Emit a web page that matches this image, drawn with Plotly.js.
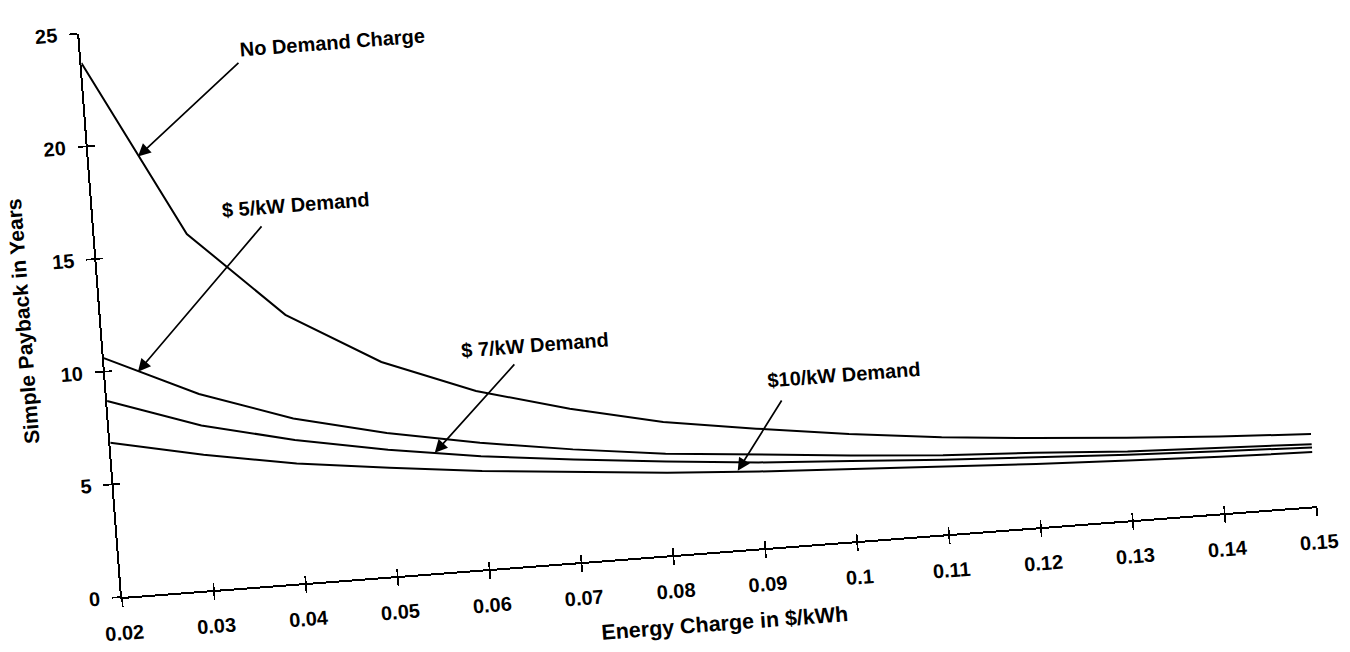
<!DOCTYPE html>
<html>
<head>
<meta charset="utf-8">
<script src="https://cdn.plot.ly/plotly-3.0.1.min.js"></script>
<style>
  html, body { margin:0; padding:0; background:#ffffff; overflow:hidden; }
  #wrap { position:absolute; left:0; top:0; width:1350px; height:720px;
          transform-origin:122px 597px; transform:rotate(-4.35deg); }
  #plot { width:1350px; height:720px; }
</style>
</head>
<body>
<div id="wrap"><div id="plot"></div></div>
<script>
// ---- data ----
const energyCharge = [0.02, 0.03, 0.04, 0.05, 0.06, 0.07, 0.08, 0.09, 0.10, 0.11, 0.12, 0.13, 0.14, 0.15];
const noDemand   = [23.7, 15.8, 11.9, 9.5, 7.9, 6.8, 5.9, 5.3, 4.75, 4.3, 3.95, 3.65, 3.4, 3.2];
const demand5    = [10.6, 8.7, 7.3, 6.35, 5.6, 5.0, 4.5, 4.15, 3.8, 3.5, 3.3, 3.05, 2.9, 2.75];
const demand7    = [8.7, 7.3, 6.35, 5.6, 5.0, 4.55, 4.15, 3.8, 3.55, 3.3, 3.1, 2.9, 2.75, 2.6];
const demand10   = [6.85, 6.0, 5.3, 4.8, 4.35, 4.0, 3.65, 3.4, 3.2, 3.0, 2.8, 2.65, 2.5, 2.4];

const xTickVals  = [0.02, 0.03, 0.04, 0.05, 0.06, 0.07, 0.08, 0.09, 0.10, 0.11, 0.12, 0.13, 0.14, 0.15];
const xTickText  = ['0.02','0.03','0.04','0.05','0.06','0.07','0.08','0.09','0.1','0.11','0.12','0.13','0.14','0.15'];
const yTickVals  = [0, 5, 10, 15, 20, 25];
const yTickText  = ['0', '5', '10', '15', '20', '25'];

const seriesNames = ['No Demand Charge', '$ 5/kW Demand', '$ 7/kW Demand', '$10/kW Demand'];
const seriesValues = [noDemand, demand5, demand7, demand10];

const xTitle = 'Energy Charge in $/kWh';
const yTitle = 'Simple Payback in Years';

// ---- styling / layout ----
const FONT = 'Liberation Sans, Arial, Helvetica, sans-serif';

const traces = seriesValues.map((vals, i) => ({
  type: 'scatter', mode: 'lines', name: seriesNames[i],
  x: energyCharge, y: vals,
  line: { color: '#000000', width: 2, shape: 'linear' },
  showlegend: false, hoverinfo: 'skip'
}));
// empty trace so the overlay axes (inner tick halves) are drawn
traces.push({ type:'scatter', mode:'lines', x:[], y:[], xaxis:'x2', yaxis:'y2', showlegend:false, hoverinfo:'skip' });

// label positions (data coords of the unrotated frame)
const labelPos = [[0.04737, 23.76], [0.04204, 16.73], [0.06674, 9.74], [0.0999, 7.38]];
const arrowHead = [[0.02535, 19.38], [0.02358, 9.88], [0.05503, 5.31], [0.08766, 3.50]];
const arrowTail = [[0.03716, 23.23], [0.03831, 15.95], [0.06453, 9.01], [0.09311, 6.52]];

const annotations = [];
seriesNames.forEach((name, i) => {
  annotations.push({
    xref:'x', yref:'y', x: labelPos[i][0], y: labelPos[i][1],
    text: name, showarrow:false, xanchor:'center', yanchor:'middle',
    font: { family: FONT, size: 20, color:'#000', weight: 'bold' }
  });
  annotations.push({
    xref:'x', yref:'y', x: arrowHead[i][0], y: arrowHead[i][1],
    axref:'x', ayref:'y', ax: arrowTail[i][0], ay: arrowTail[i][1],
    text:'', showarrow:true, arrowhead:2, arrowsize:1.5, arrowwidth:1.7, arrowcolor:'#000'
  });
});

const axisCommon = {
  showgrid:false, zeroline:false, showline:true, linecolor:'#000', linewidth:2,
  ticks:'outside', ticklen:8, tickwidth:1.7, tickcolor:'#000',
  tickfont: { family: FONT, size: 20, color:'#000', weight:'bold' },
  fixedrange:true
};

const layout = {
  width:1350, height:720,
  margin: { l:122, r:29.5, t:32.4, b:123, pad:0 },
  paper_bgcolor:'rgba(0,0,0,0)', plot_bgcolor:'rgba(0,0,0,0)',
  font: { family: FONT, color:'#000' },
  xaxis: Object.assign({}, axisCommon, {
    range:[0.02, 0.15], tickmode:'array', tickvals:xTickVals, ticktext:xTickText,
    ticklabelstandoff: 9,
    title: { text: xTitle, standoff: 18, font: { family: FONT, size: 21.5, color:'#000', weight:'bold' } }
  }),
  yaxis: Object.assign({}, axisCommon, {
    range:[0, 25], tickmode:'array', tickvals:yTickVals, ticktext:yTickText,
    ticklabelstandoff: 8,
    title: { text: yTitle, standoff: 20, font: { family: FONT, size: 21, color:'#000', weight:'bold' } }
  }),
  xaxis2: { overlaying:'x', anchor:'y', range:[0.02, 0.15], tickmode:'array', tickvals:xTickVals,
            showticklabels:false, ticks:'inside', ticklen:7, tickwidth:1.7, tickcolor:'#000',
            showgrid:false, zeroline:false, showline:false, fixedrange:true },
  yaxis2: { overlaying:'y', anchor:'x', range:[0, 25], tickmode:'array', tickvals:yTickVals,
            showticklabels:false, ticks:'inside', ticklen:7, tickwidth:1.7, tickcolor:'#000',
            showgrid:false, zeroline:false, showline:false, fixedrange:true },
  annotations: annotations,
  showlegend:false
};

Plotly.newPlot('plot', traces, layout, { displayModeBar:false, staticPlot:true });
</script>
</body>
</html>
